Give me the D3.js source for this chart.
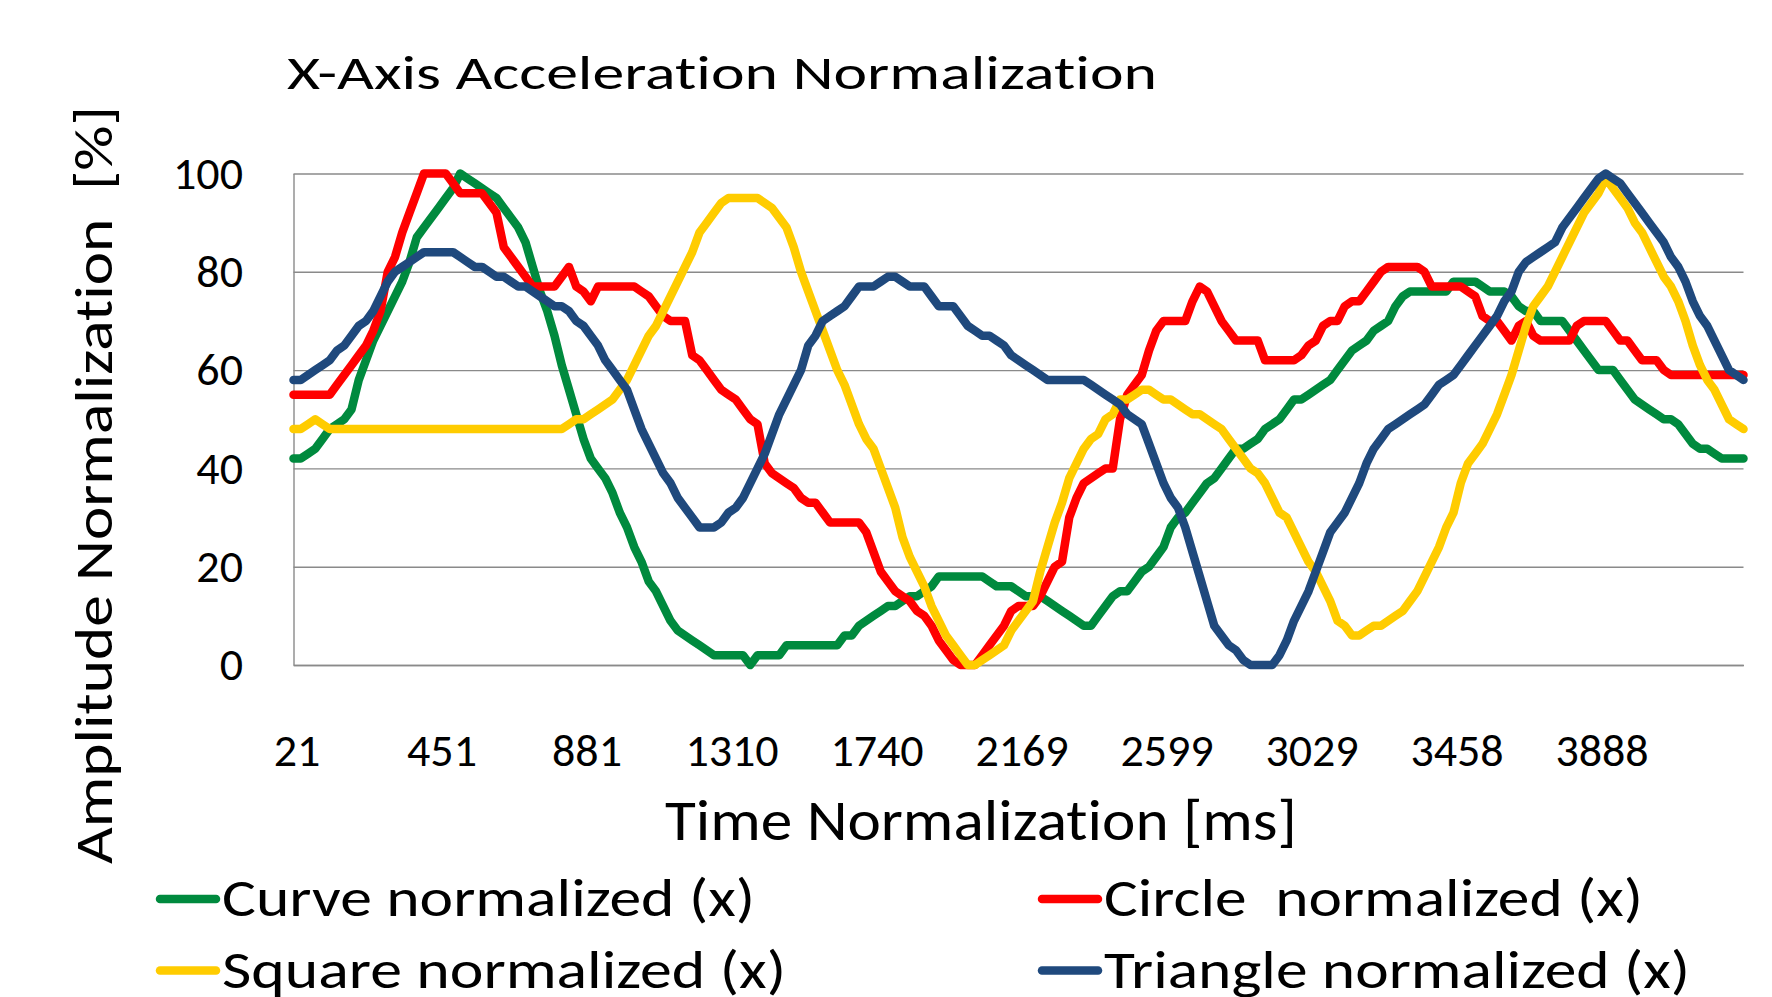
<!DOCTYPE html>
<html>
<head>
<meta charset="utf-8">
<script src="https://cdn.jsdelivr.net/npm/d3@7"></script>
<style>
  html, body { margin: 0; padding: 0; background: #fff; }
  svg { display: block; }
  text {
    font-family: Carlito, Calibri, Lato, sans-serif;
    fill: #000;
    font-variant-ligatures: none;
    font-feature-settings: "liga" 0, "clig" 0;
  }
</style>
</head>
<body>
<div id="chart"></div>
<script>
// Chart data
var tickSamples = [1, 21, 41, 61, 81, 101, 121, 141, 161, 181];
var tickLabels = ["21", "451", "881", "1310", "1740", "2169", "2599", "3029", "3458", "3888"];
var yTicks = [0, 20, 40, 60, 80, 100];

var seriesNames = ["Curve normalized (x)", "Circle  normalized (x)", "Square normalized (x)", "Triangle normalized (x)"];
var seriesColors = ["#008A3E", "#FF0000", "#FFCC00", "#1F497D"];

var curve = [42,42,43,44,46,48,49,50,52,58,
  62,66,69,72,75,78,82,87,89,91,
  93,95,97,100,99,98,97,96,95,93,
  91,89,86,81,76,72,67,61,56,51,
  46,42,40,38,35,31,28,24,21,17,
  15,12,9,7,6,5,4,3,2,2,
  2,2,2,0,2,2,2,2,4,4,
  4,4,4,4,4,4,6,6,8,9,
  10,11,12,12,13,14,14,15,16,18,
  18,18,18,18,18,18,17,16,16,16,
  15,14,14,14,13,12,11,10,9,8,
  8,10,12,14,15,15,17,19,20,22,
  24,28,30,31,33,35,37,38,40,42,
  44,44,45,46,48,49,50,52,54,54,
  55,56,57,58,60,62,64,65,66,68,
  69,70,73,75,76,76,76,76,76,76,
  78,78,78,78,77,76,76,76,75,73,
  72,72,70,70,70,70,68,66,64,62,
  60,60,60,58,56,54,53,52,51,50,
  50,49,47,45,44,44,43,42,42,42,
  42];

var circle = [55,55,55,55,55,55,57,59,61,63,
  65,68,72,80,83,88,92,96,100,100,
  100,100,98,96,96,96,96,94,92,85,
  83,81,79,77,77,77,77,79,81,77,
  76,74,77,77,77,77,77,77,76,75,
  73,71,70,70,70,63,62,60,58,56,
  55,54,52,50,49,41,39,38,37,36,
  34,33,33,31,29,29,29,29,29,27,
  23,19,17,15,14,13,11,10,8,5,
  3,1,0,0,0,2,4,6,8,11,
  12,12,12,14,17,20,21,30,34,37,
  38,39,40,40,50,55,57,59,64,68,
  70,70,70,70,74,77,76,73,70,68,
  66,66,66,66,62,62,62,62,62,63,
  65,66,69,70,70,73,74,74,76,78,
  80,81,81,81,81,81,80,77,77,77,
  77,77,76,75,71,70,70,68,66,69,
  70,67,66,66,66,66,66,69,70,70,
  70,70,68,66,66,64,62,62,62,60,
  59,59,59,59,59,59,59,59,59,59,
  59];

var square = [48,48,49,50,49,48,48,48,48,48,
  48,48,48,48,48,48,48,48,48,48,
  48,48,48,48,48,48,48,48,48,48,
  48,48,48,48,48,48,48,48,49,50,
  50,51,52,53,54,56,58,61,64,67,
  69,72,75,78,81,84,88,90,92,94,
  95,95,95,95,95,94,93,91,89,85,
  80,76,72,68,64,60,57,53,49,46,
  44,40,36,32,26,22,19,16,12,9,
  6,4,2,0,0,1,2,3,4,7,
  9,11,13,19,24,29,33,38,41,44,
  46,47,50,51,54,54,55,56,56,55,
  54,54,53,52,51,51,50,49,48,46,
  44,42,40,39,37,34,31,30,27,24,
  21,19,16,13,9,8,6,6,7,8,
  8,9,10,11,13,15,18,21,24,28,
  31,37,41,43,45,48,51,55,59,64,
  69,73,75,77,80,83,86,89,92,94,
  96,99,97,95,93,90,88,85,82,79,
  77,74,70,65,61,58,56,53,50,49,
  48];

var triangle = [58,58,59,60,61,62,64,65,67,69,
  70,72,75,78,80,81,82,83,84,84,
  84,84,84,83,82,81,81,80,79,79,
  78,77,77,76,75,74,73,73,72,70,
  69,67,65,62,60,58,56,52,48,45,
  42,39,37,34,32,30,28,28,28,29,
  31,32,34,37,40,43,47,51,54,57,
  60,65,67,70,71,72,73,75,77,77,
  77,78,79,79,78,77,77,77,75,73,
  73,73,71,69,68,67,67,66,65,63,
  62,61,60,59,58,58,58,58,58,58,
  57,56,55,54,53,51,50,49,45,41,
  37,34,32,28,23,18,13,8,6,4,
  3,1,0,0,0,0,2,5,9,12,
  15,19,23,27,29,31,34,37,41,44,
  46,48,49,50,51,52,53,55,57,58,
  59,61,63,65,67,69,71,74,76,80,
  82,83,84,85,86,89,91,93,95,97,
  99,100,99,98,96,94,92,90,88,86,
  83,81,78,74,71,69,66,63,60,59,
  58];

var allSeries = [curve, circle, square, triangle];

// Set up our chart
var svgWidth = 1772;
var svgHeight = 997;

var margin = { top: 173.5, right: 28.5, bottom: 332, left: 293.5 };
var width = svgWidth - margin.left - margin.right;
var height = svgHeight - margin.top - margin.bottom;

var svg = d3.select("#chart").append("svg")
    .attr("width", svgWidth)
    .attr("height", svgHeight);

var chartGroup = svg.append("g")
    .attr("transform", `translate(${margin.left}, ${margin.top})`);

// one category per sample
var samples = d3.range(1, curve.length + 1);

var xScale = d3.scalePoint()
    .domain(samples)
    .range([0, width]);

var yScale = d3.scaleLinear()
    .domain([0, 100])
    .range([height, 0]);

var gridColor = "#8a8a8a";

// y axis + gridlines
var leftAxis = d3.axisLeft(yScale)
    .tickValues(yTicks)
    .tickSize(-width)
    .tickSizeOuter(0)
    .tickPadding(50.5);

var yAxisG = chartGroup.append("g").call(leftAxis);
yAxisG.selectAll(".tick line").attr("stroke", gridColor).attr("stroke-width", 1.4);
yAxisG.select(".domain").attr("stroke", gridColor).attr("stroke-width", 1.4);
yAxisG.selectAll("text")
    .attr("font-size", "46px")
    .attr("font-family", null)
    .attr("fill", "#000");

// x axis
var bottomAxis = d3.axisBottom(xScale)
    .tickValues(tickSamples)
    .tickFormat((d, i) => tickLabels[i])
    .tickSize(0)
    .tickSizeOuter(0)
    .tickPadding(68);

var xAxisG = chartGroup.append("g")
    .attr("transform", `translate(0, ${height})`)
    .call(bottomAxis);
xAxisG.select(".domain").attr("stroke", gridColor).attr("stroke-width", 1.6);
xAxisG.selectAll("text")
    .attr("font-size", "46px")
    .attr("font-family", null)
    .attr("fill", "#000")
    .attr("dx", 3);

// lines
var line = d3.line()
    .x((d, i) => xScale(samples[i]))
    .y(d => yScale(d));

chartGroup.selectAll("path.series")
    .data(allSeries)
    .enter()
    .append("path")
    .classed("series", true)
    .attr("d", line)
    .attr("fill", "none")
    .attr("stroke", (d, i) => seriesColors[i])
    .attr("stroke-width", 8.5)
    .attr("stroke-linejoin", "round")
    .attr("stroke-linecap", "round");

// squeeze text to the reference's widths
function fitText(sel, w) {
    sel.attr("textLength", w).attr("lengthAdjust", "spacingAndGlyphs");
}

// title
svg.append("text")
    .attr("x", 287)
    .attr("y", 88.5)
    .attr("font-size", "46.5px")
    .text("X-Axis Acceleration Normalization")
    .call(fitText, 870);

// axis labels
svg.append("text")
    .attr("transform", "translate(112, 485) rotate(-90)")
    .attr("text-anchor", "middle")
    .attr("font-size", "54px")
    .text("Amplitude Normalization  [%]")
    .style("white-space", "pre")
    .call(fitText, 758);

svg.append("text")
    .attr("x", 665)
    .attr("y", 840)
    .attr("font-size", "58px")
    .text("Time Normalization [ms]")
    .call(fitText, 632);

// legend (second row is cut by the bottom edge, as in the reference)
var legendPos = [
    { lx: 160, tx: 222, y: 916, w: 533 },
    { lx: 1042, tx: 1104, y: 916, w: 539 },
    { lx: 160, tx: 222, y: 987.5, w: 564 },
    { lx: 1042, tx: 1104, y: 987.5, w: 586 }
];

var legend = svg.selectAll("g.legend")
    .data(seriesNames)
    .enter()
    .append("g")
    .classed("legend", true);

legend.append("line")
    .attr("x1", (d, i) => legendPos[i].lx)
    .attr("x2", (d, i) => legendPos[i].lx + 56)
    .attr("y1", (d, i) => legendPos[i].y - 17)
    .attr("y2", (d, i) => legendPos[i].y - 17)
    .attr("stroke", (d, i) => seriesColors[i])
    .attr("stroke-width", 8.5)
    .attr("stroke-linecap", "round");

legend.append("text")
    .attr("x", (d, i) => legendPos[i].tx)
    .attr("y", (d, i) => legendPos[i].y)
    .attr("font-size", "53px")
    .style("white-space", "pre")
    .text(d => d)
    .each(function (d, i) { d3.select(this).call(fitText, legendPos[i].w); });
</script>
</body>
</html>
